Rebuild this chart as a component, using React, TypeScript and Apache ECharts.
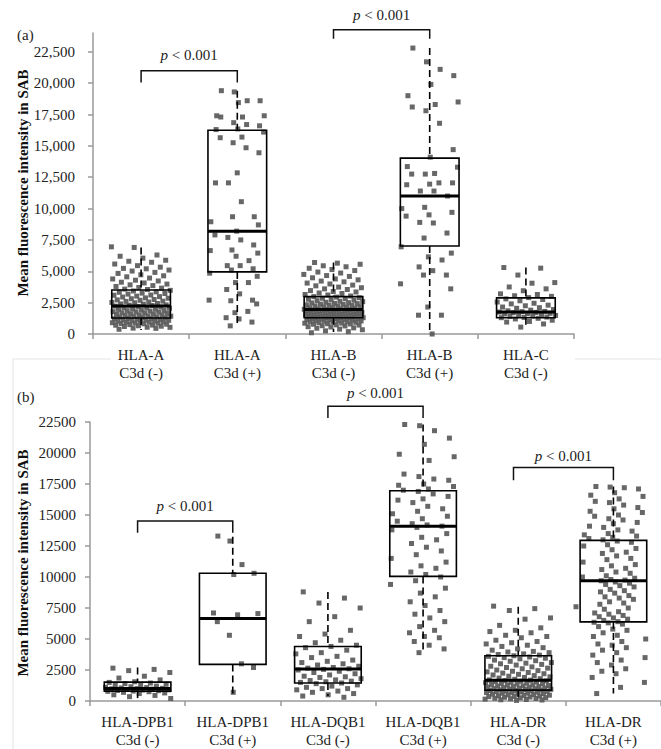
import React, { useEffect, useRef } from "react";
import * as echarts from "echarts";

// ---------- categories ----------
const TOP_LOCI = ["HLA-A", "HLA-A", "HLA-B", "HLA-B", "HLA-C"];
const TOP_C3D = ["C3d (-)", "C3d (+)", "C3d (-)", "C3d (+)", "C3d (-)"];
const BOT_LOCI = ["HLA-DPB1", "HLA-DPB1", "HLA-DQB1", "HLA-DQB1", "HLA-DR", "HLA-DR"];
const BOT_C3D = ["C3d (-)", "C3d (+)", "C3d (-)", "C3d (+)", "C3d (-)", "C3d (+)"];

// ---------- tick labels ----------
const TOP_TICKS = [0, 2500, 5000, 7500, 10000, 12500, 15000, 17500, 20000, 22500];
const BOT_TICKS = [0, 2500, 5000, 7500, 10000, 12500, 15000, 17500, 20000, 22500];

// ---------- box statistics: [min, q1, median, q3, max] ----------
const TOP_BOX = [
  [320, 1280, 2240, 3510, 6900],
  [650, 4950, 8200, 16250, 19400],
  [150, 1300, 1950, 2980, 5700],
  [0, 7020, 11000, 14020, 22800],
  [480, 1300, 1750, 2880, 5300],
];
const BOT_BOX = [
  [100, 800, 1000, 1520, 2700],
  [600, 2950, 6650, 10300, 13250],
  [400, 1450, 2580, 4400, 8800],
  [3900, 10050, 14100, 16950, 22300],
  [50, 880, 1680, 3650, 7600],
  [600, 6380, 9700, 12950, 17300],
];

// ---------- individual MFI values ----------
const HLA_A_NEG = [
  380, 450, 470, 530, 540, 600, 620, 660, 700, 710, 750, 780, 810, 840, 860, 870, 900, 940, 950, 990, 1000, 1030,
  1050, 1060, 1090, 1120, 1140, 1150, 1180, 1210, 1230, 1250, 1280, 1310, 1340, 1350, 1390, 1420, 1440, 1480, 1500,
  1520, 1560, 1600, 1610, 1640, 1690, 1700, 1740, 1770, 1780, 1830, 1860, 1870, 1910, 1960, 1980, 2000, 2050, 2090,
  2100, 2150, 2200, 2220, 2270, 2300, 2320, 2380, 2400, 2430, 2490, 2520, 2550, 2600, 2620, 2690, 2720, 2750, 2810,
  2850, 2880, 2950, 2980, 3020, 3090, 3110, 3180, 3230, 3260, 3330, 3360, 3430, 3480, 3550, 3580, 3660, 3710, 3790,
  3860, 3920, 3980, 4070, 4130, 4230, 4290, 4390, 4460, 4560, 4640, 4720, 4830, 4910, 5020, 5100, 5200, 5230, 5330,
  5450, 5580, 5720, 5800, 5880, 6050, 6200, 6300, 6900, 6950,
];
const HLA_A_POS = [
  19400, 19300, 18600, 18600, 18450, 17400, 17400, 17300, 17300, 16850, 16700, 16600, 16350, 16300, 16100, 15700,
  15650, 15250, 14850, 14450, 12850, 12050, 12050, 10550, 9350, 9350, 8950, 8700, 8200, 7900, 7700, 7500, 7100,
  6700, 6650, 6450, 6200, 5850, 5450, 5450, 5200, 5100, 4850, 4600, 4100, 4100, 3550, 3200, 2700, 2650, 2700, 2400,
  1700, 1800, 1300, 1200, 950, 650,
];
const HLA_B_NEG = [
  100, 190, 250, 340, 390, 460, 490, 560, 580, 640, 660, 710, 730, 780, 800, 820, 860, 870, 910, 930, 960, 980, 990,
  1030, 1040, 1070, 1080, 1110, 1130, 1140, 1170, 1190, 1200, 1230, 1240, 1270, 1290, 1300, 1310, 1330, 1360, 1370,
  1390, 1410, 1430, 1460, 1470, 1500, 1510, 1530, 1560, 1570, 1590, 1620, 1630, 1650, 1670, 1690, 1720, 1730, 1760,
  1770, 1790, 1810, 1830, 1860, 1870, 1890, 1910, 1930, 1950, 1970, 2000, 2010, 2040, 2080, 2100, 2130, 2160, 2180,
  2220, 2240, 2270, 2300, 2330, 2360, 2380, 2420, 2440, 2480, 2500, 2530, 2580, 2610, 2660, 2690, 2730, 2770, 2810,
  2850, 2890, 2940, 2980, 3030, 3110, 3150, 3230, 3270, 3350, 3390, 3460, 3550, 3600, 3690, 3740, 3840, 3900, 3990,
  4060, 4160, 4220, 4320, 4390, 4480, 4590, 4660, 4750, 4860, 4940, 5060, 5140, 5240, 5360, 5440, 5560, 5650, 5700,
];
const HLA_B_POS = [
  22800, 21700, 21100, 20600, 19900, 19000, 18500, 18300, 18100, 17800, 16800, 14700, 14100, 13350, 13300, 12800,
  12750, 12750, 12050, 12050, 11950, 11900, 11400, 11400, 11000, 10100, 10000, 9700, 9500, 9400, 8900, 8850, 8050,
  7650, 6950, 6450, 6150, 5900, 5350, 5050, 4700, 4700, 4000, 3600, 2150, 1500, 1500, 0,
];
const HLA_C_NEG = [
  5300, 5250, 4700, 4100, 4050, 3750, 3600, 3450, 3200, 3150, 3050, 3000, 2900, 2800, 2750, 2650, 2550, 2450, 2400,
  2300, 2250, 2150, 2100, 2050, 1950, 1900, 1850, 1800, 1780, 1750, 1720, 1700, 1650, 1620, 1600, 1550, 1500, 1480,
  1450, 1400, 1350, 1320, 1300, 1250, 1200, 1100, 1000, 950, 800, 550,
];
const DPB1_NEG = [
  2650, 2550, 2450, 2300, 2000, 1850, 1700, 1550, 1500, 1450, 1400, 1350, 1300, 1250, 1200, 1150, 1100, 1080, 1050,
  1020, 1000, 980, 960, 930, 900, 880, 850, 830, 800, 780, 750, 700, 650, 600, 500, 450, 350, 200,
];
const DPB1_POS = [13300, 12900, 11000, 10300, 10200, 7100, 7050, 6950, 6400, 5300, 3000, 2700, 700];
const DQB1_NEG = [
  8800, 8300, 7900, 7500, 6800, 6400, 5700, 5400, 5200, 4900, 4700, 4500, 4400, 4300, 4100, 3900, 3800, 3600, 3500,
  3300, 3200, 3100, 3000, 2900, 2800, 2700, 2650, 2600, 2550, 2500, 2400, 2300, 2200, 2100, 2000, 1950, 1900, 1800,
  1700, 1650, 1600, 1550, 1500, 1450, 1400, 1300, 1200, 1100, 1000, 1000, 900, 800, 700, 600, 500, 400, 300,
];
const DQB1_POS = [
  22300, 22200, 21800, 21200, 20700, 19900, 19700, 19400, 18300, 18100, 17900, 17800, 17500, 17400, 17300, 17100,
  17000, 16900, 16700, 16500, 16300, 16200, 16000, 15700, 15500, 15300, 15100, 14900, 14700, 14500, 14300, 14200,
  14100, 14000, 13800, 13500, 13200, 13000, 12700, 12400, 12100, 11800, 11500, 11200, 10900, 10700, 10400, 10200,
  10000, 9700, 9400, 9100, 8700, 8400, 8000, 7700, 7300, 7000, 6700, 6400, 6000, 5700, 5500, 5200, 5100, 4800, 4500,
  4200, 3900,
];
const DR_NEG = [
  7650, 7450, 7300, 6700, 6600, 6100, 5900, 5700, 5600, 5500, 5300, 5200, 5100, 4900, 4800, 4700, 4600, 4500, 4400,
  4300, 4200, 4100, 4000, 3950, 3900, 3800, 3750, 3700, 3650, 3600, 3550, 3500, 3450, 3400, 3300, 3250, 3200, 3100,
  3050, 3000, 2950, 2900, 2800, 2750, 2700, 2650, 2600, 2500, 2450, 2400, 2350, 2300, 2250, 2200, 2150, 2100, 2050,
  2000, 1950, 1900, 1850, 1800, 1750, 1700, 1680, 1650, 1620, 1600, 1570, 1540, 1500, 1480, 1450, 1420, 1400, 1370,
  1340, 1300, 1280, 1250, 1220, 1200, 1170, 1150, 1120, 1100, 1080, 1050, 1020, 1000, 980, 960, 940, 920, 900, 880,
  860, 840, 820, 800, 780, 760, 740, 720, 700, 680, 650, 630, 600, 580, 550, 520, 500, 470, 450, 420, 400, 370, 350,
  320, 300, 270, 250, 220, 200, 180, 150, 120, 100, 80, 50,
];
const DR_POS = [
  17300, 17250, 17200, 17100, 16800, 16600, 16500, 16300, 16100, 16000, 15800, 15600, 15500, 15300, 15200, 15000,
  14900, 14700, 14600, 14400, 14300, 14100, 14000, 13800, 13700, 13500, 13400, 13300, 13200, 13100, 13000, 12900,
  12800, 12600, 12500, 12300, 12200, 12000, 11900, 11700, 11500, 11400, 11200, 11000, 10900, 10700, 10600, 10400,
  10300, 10100, 10000, 9900, 9800, 9750, 9700, 9600, 9500, 9400, 9300, 9200, 9000, 8900, 8800, 8700, 8500, 8400,
  8300, 8200, 8000, 7900, 7800, 7600, 7500, 7400, 7200, 7100, 7000, 6900, 6800, 6700, 6600, 6500, 6400, 6350, 6300,
  6200, 6000, 5800, 5700, 5500, 5300, 5200, 5000, 4800, 4600, 4500, 4300, 4100, 3900, 3700, 3500, 3300, 3100, 2900,
  2600, 2400, 2200, 1900, 1500, 1100, 600,
];

// ---------- significance brackets: [fromCat, barValue, toCat, legValue, textValue] ----------
const TOP_BRACKETS = [
  [0, 21000, 1, 20050, 22250],
  [2, 24250, 3, 23550, 25400],
];
const BOT_BRACKETS = [
  [0, 14520, 1, 13570, 15720],
  [2, 23780, 3, 22820, 24820],
  [3.95, 18830, 5, 17800, 19790],
];
const P_TEXT = "{i|p} < 0.001";

const FONT = "'Liberation Serif', 'DejaVu Serif', serif";
const TEXT_COLOR = "#222";
const AXIS_COLOR = "#9a9a9a";
const POINT_COLOR = "#5a5a5a";

const frac = (x: number) => x - Math.floor(x);

function jitter(i: number, spread: number, tri: boolean) {
  const a = frac(i * 0.6180339887 + 0.13);
  if (!tri) return (a * 2 - 1) * spread;
  const b = frac(i * 0.7548776662 + 0.41);
  return (a + b - 1) * spread;
}

function scatterSeries(values: number[], cat: number, spread: number, tri: boolean, xi: number, yi: number) {
  return {
    type: "scatter",
    xAxisIndex: xi,
    yAxisIndex: yi,
    symbol: "rect",
    symbolSize: 5,
    itemStyle: { color: POINT_COLOR, opacity: 0.92 },
    silent: true,
    z: 2,
    data: values.map((v, i) => [cat + jitter(i, spread, tri), v]),
  };
}

function boxSeries(stats: number[][], ratio: number, xi: number, yi: number) {
  return {
    type: "custom",
    xAxisIndex: xi,
    yAxisIndex: yi,
    z: 5,
    silent: true,
    encode: { x: 0, y: [1, 2, 3, 4, 5] },
    data: stats.map((s, i) => [i, ...s]),
    renderItem: (params: any, api: any) => {
      const idx = api.value(0);
      const lo = api.coord([idx, api.value(1)]);
      const q1 = api.coord([idx, api.value(2)]);
      const md = api.coord([idx, api.value(3)]);
      const q3 = api.coord([idx, api.value(4)]);
      const hi = api.coord([idx, api.value(5)]);
      const bw = api.size([1, 0])[0] * ratio;
      const x = q1[0];
      const dash = { stroke: "#000", lineWidth: 1.6, lineDash: [7, 4] };
      return {
        type: "group",
        children: [
          { type: "line", shape: { x1: x, y1: hi[1], x2: x, y2: q3[1] }, style: dash },
          { type: "line", shape: { x1: x, y1: q1[1], x2: x, y2: lo[1] }, style: dash },
          {
            type: "rect",
            shape: { x: x - bw / 2, y: q3[1], width: bw, height: q1[1] - q3[1] },
            style: { fill: "none", stroke: "#000", lineWidth: 1.6 },
          },
          {
            type: "line",
            shape: { x1: x - bw / 2, y1: md[1], x2: x + bw / 2, y2: md[1] },
            style: { stroke: "#000", lineWidth: 3 },
          },
        ],
      };
    },
  };
}

function bracketSeries(b: number[][], xi: number, yi: number) {
  return {
    type: "custom",
    xAxisIndex: xi,
    yAxisIndex: yi,
    z: 6,
    silent: true,
    clip: false,
    encode: { x: [0, 2], y: [1, 3, 4] },
    data: b,
    renderItem: (params: any, api: any) => {
      const a = api.value(0);
      const top = api.value(1);
      const c = api.value(2);
      const leg = api.value(3);
      const txt = api.value(4);
      const p1 = api.coord([a, leg]);
      const p2 = api.coord([a, top]);
      const p3 = api.coord([c, top]);
      const p4 = api.coord([c, leg]);
      const pt = api.coord([(a + c) / 2, txt]);
      return {
        type: "group",
        children: [
          {
            type: "polyline",
            shape: { points: [p1, p2, p3, p4] },
            style: { stroke: "#111", lineWidth: 1.5, fill: "none" },
          },
          {
            type: "text",
            x: pt[0],
            y: pt[1],
            style: {
              text: P_TEXT,
              fontFamily: FONT,
              fontSize: 15,
              fill: TEXT_COLOR,
              align: "center",
              verticalAlign: "middle",
              rich: { i: { fontStyle: "italic", fontFamily: FONT, fontSize: 15, fill: TEXT_COLOR } },
            },
          },
        ],
      };
    },
  };
}

function catAxis(grid: number, loci: string[], c3d: string[]) {
  return {
    type: "category",
    gridIndex: grid,
    data: loci.map((l, i) => l + "\n" + c3d[i]),
    boundaryGap: true,
    axisLine: { onZero: false, lineStyle: { color: AXIS_COLOR, width: 1.5 } },
    axisTick: { show: true, length: 5, lineStyle: { color: AXIS_COLOR, width: 1.5 } },
    axisLabel: {
      interval: 0,
      margin: 12,
      fontFamily: FONT,
      fontSize: 15,
      lineHeight: 18,
      color: TEXT_COLOR,
    },
    splitLine: { show: false },
  };
}

function valAxis(grid: number, min: number, max: number) {
  return {
    type: "value",
    gridIndex: grid,
    min,
    max,
    show: false,
    axisLine: { show: false, onZero: false },
    axisTick: { show: false },
    axisLabel: { show: false },
    splitLine: { show: false },
  };
}

function yAxis(grid: number, max: number, ticks: number[], comma: boolean) {
  return {
    type: "value",
    gridIndex: grid,
    min: 0,
    max,
    axisLine: { show: true, onZero: false, lineStyle: { color: AXIS_COLOR, width: 1.5 } },
    axisTick: { show: true, length: 5, customValues: ticks, lineStyle: { color: AXIS_COLOR, width: 1.5 } },
    axisLabel: {
      customValues: ticks,
      margin: comma ? 18 : 14,
      fontFamily: FONT,
      fontSize: 15,
      color: TEXT_COLOR,
      formatter: (v: number) => (comma ? v.toLocaleString("en-US") : String(v)),
    },
    splitLine: { show: false },
  };
}

export default function App() {
  const ref = useRef<HTMLDivElement>(null);
  useEffect(() => {
    if (!ref.current) return;
    const chart = echarts.init(ref.current, undefined, { renderer: "svg" });
    const yTitle = "Mean fluorescence intensity in SAB";
    chart.setOption({
      animation: false,
      backgroundColor: "#fff",
      grid: [
        { left: 93, top: 33, width: 481, height: 301 },
        { left: 90, top: 422, width: 577, height: 282 },
      ],
      xAxis: [
        catAxis(0, TOP_LOCI, TOP_C3D),
        valAxis(0, -0.5, TOP_LOCI.length - 0.5),
        catAxis(1, BOT_LOCI, BOT_C3D),
        valAxis(1, -0.5, BOT_LOCI.length - 0.5),
      ],
      yAxis: [yAxis(0, 24000, TOP_TICKS, true), yAxis(1, 22500, BOT_TICKS, false)],
      graphic: [
        { type: "line", shape: { x1: 13, y1: 359, x2: 111, y2: 359 }, style: { stroke: "#e6e6e6", lineWidth: 1.2 }, z: -1 },
        { type: "line", shape: { x1: 575, y1: 359, x2: 661, y2: 359 }, style: { stroke: "#e6e6e6", lineWidth: 1.2 }, z: -1 },
        { type: "line", shape: { x1: 13, y1: 359, x2: 13, y2: 749 }, style: { stroke: "#e6e6e6", lineWidth: 1.2 }, z: -1 },
        { type: "text", x: 17, y: 35, style: { text: "(a)", font: `15px ${FONT}`, fill: TEXT_COLOR, verticalAlign: "middle" } },
        { type: "text", x: 17, y: 397, style: { text: "(b)", font: `15px ${FONT}`, fill: TEXT_COLOR, verticalAlign: "middle" } },
        {
          type: "text",
          x: 23,
          y: 183,
          rotation: Math.PI / 2,
          style: { text: yTitle, font: `bold 15px ${FONT}`, fill: "#111", align: "center", verticalAlign: "middle" },
        },
        {
          type: "text",
          x: 23,
          y: 563,
          rotation: Math.PI / 2,
          style: { text: yTitle, font: `bold 15px ${FONT}`, fill: "#111", align: "center", verticalAlign: "middle" },
        },
      ],
      series: [
        scatterSeries(HLA_A_NEG, 0, 0.31, false, 1, 0),
        scatterSeries(HLA_A_POS, 1, 0.36, true, 1, 0),
        scatterSeries(HLA_B_NEG, 2, 0.31, false, 1, 0),
        scatterSeries(HLA_B_POS, 3, 0.38, true, 1, 0),
        scatterSeries(HLA_C_NEG, 4, 0.31, false, 1, 0),
        scatterSeries(DPB1_NEG, 0, 0.35, false, 3, 1),
        scatterSeries(DPB1_POS, 1, 0.34, true, 3, 1),
        scatterSeries(DQB1_NEG, 2, 0.35, false, 3, 1),
        scatterSeries(DQB1_POS, 3, 0.42, true, 3, 1),
        scatterSeries(DR_NEG, 4, 0.35, false, 3, 1),
        scatterSeries(DR_POS, 5, 0.4, true, 3, 1),
        boxSeries(TOP_BOX, 0.61, 0, 0),
        boxSeries(BOT_BOX, 0.7, 2, 1),
        bracketSeries(TOP_BRACKETS, 1, 0),
        bracketSeries(BOT_BRACKETS, 3, 1),
      ],
    });
    return () => chart.dispose();
  }, []);
  return (
    <div
      ref={ref}
      style={{ position: "absolute", left: 0, top: 0, width: 661, height: 749, background: "#fff" }}
    />
  );
}
